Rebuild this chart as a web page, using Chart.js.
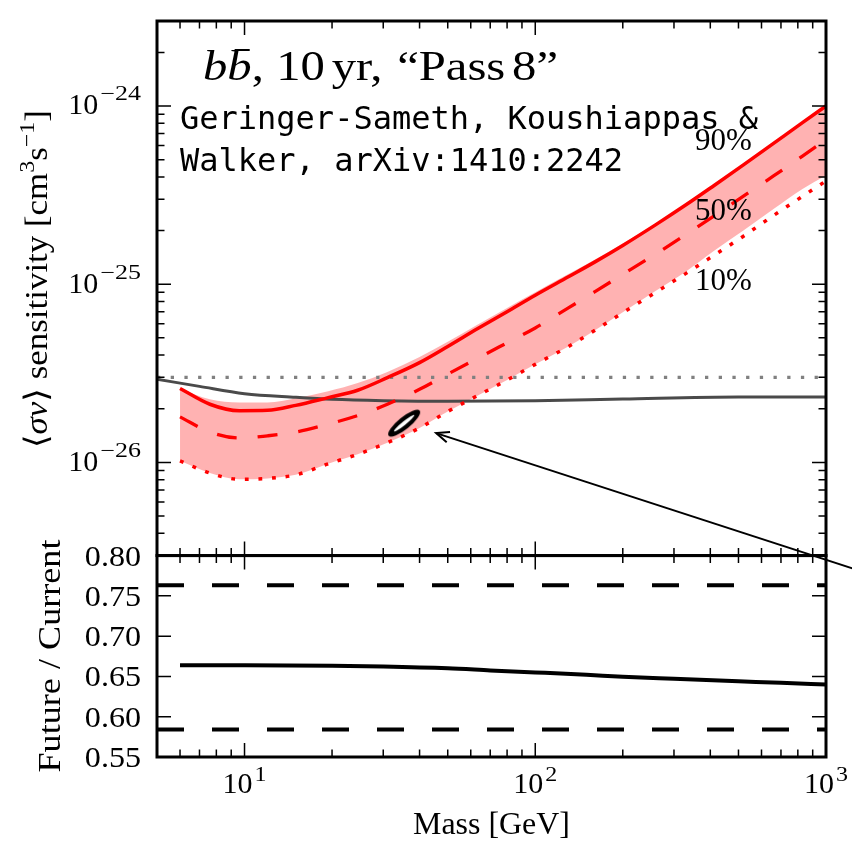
<!DOCTYPE html>
<html>
<head>
<meta charset="utf-8">
<script src="https://cdn.jsdelivr.net/npm/chart.js@4.4.1/dist/chart.umd.min.js"></script>
<style>
  html, body { margin:0; padding:0; background:#fff; }
  canvas { display:block; }
</style>
</head>
<body>
<canvas id="sens" width="852" height="846"></canvas>
<script>
'use strict';

// ---- data ----
const massGrid = [6, 7.6, 9.6, 12, 15, 19.4, 24.5, 31, 40, 50, 63, 80, 100, 130, 160, 200, 260, 330, 410, 520, 660, 830, 1000];
const sens90 = [2.6e-26, 2.12e-26, 1.95e-26, 1.96e-26, 2.09e-26, 2.31e-26, 2.54e-26, 2.99e-26, 3.63e-26, 4.47e-26, 5.6e-26, 7.01e-26, 8.67e-26, 1.10e-25, 1.33e-25, 1.65e-25, 2.16e-25, 2.79e-25, 3.56e-25, 4.67e-25, 6.17e-25, 8.07e-25, 1.0e-24];
const sens50 = [1.80e-26, 1.48e-26, 1.37e-26, 1.41e-26, 1.48e-26, 1.64e-26, 1.83e-26, 2.12e-26, 2.57e-26, 3.13e-26, 3.82e-26, 4.69e-26, 5.68e-26, 7.36e-26, 9.06e-26, 1.135e-25, 1.48e-25, 1.9e-25, 2.4e-25, 3.12e-25, 4.05e-25, 5.24e-25, 6.46e-25];
const sens10 = [1.02e-26, 8.71e-27, 8.04e-27, 8.13e-27, 8.51e-27, 9.82e-27, 1.11e-26, 1.29e-26, 1.56e-26, 1.93e-26, 2.36e-26, 2.9e-26, 3.55e-26, 4.47e-26, 5.5e-26, 6.92e-26, 9.02e-26, 1.15e-25, 1.445e-25, 1.86e-25, 2.43e-25, 3.11e-25, 3.80e-25];
const bandHi = [2.6e-26, 2.26e-26, 2.17e-26, 2.17e-26, 2.29e-26, 2.51e-26, 2.79e-26, 3.22e-26, 3.9e-26, 4.75e-26, 5.9e-26, 7.35e-26, 9.0e-26, 1.14e-25, 1.37e-25, 1.69e-25, 2.2e-25, 2.84e-25, 3.61e-25, 4.72e-25, 6.22e-25, 8.1e-25, 1.0e-24];
const bandLo = [1.02e-26, 8.71e-27, 8.04e-27, 8.13e-27, 8.51e-27, 9.82e-27, 1.11e-26, 1.29e-26, 1.56e-26, 1.93e-26, 2.36e-26, 2.9e-26, 3.55e-26, 4.47e-26, 5.5e-26, 6.95e-26, 9.2e-26, 1.18e-25, 1.53e-25, 2.0e-25, 2.64e-25, 3.42e-25, 4.07e-25];

const grayMass = [5, 7, 10, 15, 20, 30, 50, 100, 200, 500, 1000];
const graySens = [2.93e-26, 2.67e-26, 2.43e-26, 2.32e-26, 2.26e-26, 2.22e-26, 2.2e-26, 2.22e-26, 2.27e-26, 2.33e-26, 2.33e-26];
const thermalMass = [5, 1000];
const thermalSens = [3.0e-26, 3.0e-26];

const contourCenter = [35.4, 1.66e-26];
const arrowMass = [45.6, 1500];
const arrowSens = [1.46e-26, 2.29e-27];

const ratioMass = [6, 10, 20, 30, 50, 70, 100, 150, 200, 300, 500, 700, 1000];
const ratioVal = [0.664, 0.664, 0.6632, 0.6622, 0.660, 0.6575, 0.655, 0.652, 0.6495, 0.647, 0.644, 0.642, 0.640];
const ratioBandMass = [5, 1000];
const ratioUpper = [0.763, 0.763];
const ratioLower = [0.584, 0.584];

// ---- ticks ----
const xMajor = [10, 100, 1000];
const xMajorExp = ['1', '2', '3'];
const xMinor = [5, 6, 7, 8, 9, 20, 30, 40, 50, 60, 70, 80, 90, 200, 300, 400, 500, 600, 700, 800, 900];
const sensMajor = [1e-26, 1e-25, 1e-24];
const sensMajorExp = ['\u221226', '\u221225', '\u221224'];
const sensMinor = [3e-27, 4e-27, 5e-27, 6e-27, 7e-27, 8e-27, 9e-27, 2e-26, 3e-26, 4e-26, 5e-26, 6e-26, 7e-26, 8e-26, 9e-26,
                   2e-25, 3e-25, 4e-25, 5e-25, 6e-25, 7e-25, 8e-25, 9e-25, 2e-24, 3e-24];
const ratioTicks = [0.55, 0.60, 0.65, 0.70, 0.75, 0.80];
const ratioTickLabels = ['0.55', '0.60', '0.65', '0.70', '0.75', '0.80'];

const pts = (xs, ys) => xs.map((x, i) => ({ x, y: ys[i] }));

const SERIF = '"Liberation Serif", "DejaVu Serif", serif';
const MONO = '"DejaVu Sans Mono", monospace';
const f = (px, style = '') => `${style} ${px}px ${SERIF}`.trim();

function runW(ctx, r) { ctx.font = r.font; return ctx.measureText(r.t).width * (r.sx || 1); }
function runsWidth(ctx, runs) {
  return runs.reduce((w, r) => w + runW(ctx, r) + (r.gap || 0), 0);
}
// draw a row of text pieces (superscripts / italics); targetW stretches the row horizontally
function drawRuns(ctx, runs, x, y, align = 'left', targetW = 0) {
  ctx.save();
  ctx.translate(x, y);
  const w = runsWidth(ctx, runs);
  ctx.scale(targetW ? targetW / w : 1, 1);
  let cx = align === 'center' ? -w / 2 : align === 'right' ? -w : 0;
  ctx.textAlign = 'left';
  ctx.textBaseline = 'alphabetic';
  ctx.fillStyle = '#000';
  runs.forEach(r => {
    const rw = runW(ctx, r);
    ctx.save();
    ctx.translate(cx, r.dy || 0);
    ctx.scale(r.sx || 1, 1);
    ctx.font = r.font;
    ctx.fillText(r.t, 0, 0);
    ctx.restore();
    if (r.bar) ctx.fillRect(cx + rw * 0.3, -r.bar, rw * 0.62, 2);
    cx += rw + (r.gap || 0);
  });
  ctx.restore();
}

function contourGlyph() {
  const c = document.createElement('canvas');
  c.width = 52; c.height = 52;
  const g = c.getContext('2d');
  g.translate(26, 26);
  g.rotate(-0.68);
  g.beginPath(); g.ellipse(0, 0, 20, 6, 0, 0, Math.PI * 2); g.fillStyle = '#000'; g.fill();
  g.beginPath(); g.ellipse(0, 0, 13, 1.8, 0, 0, Math.PI * 2); g.fillStyle = '#fff'; g.fill();
  return c;
}

// split the plot area into the two panels (upper 544px, lower 205px)
const panels = {
  id: 'panels',
  afterLayout(chart) {
    const a = chart.chartArea;
    const { ys, yr } = chart.scales;
    const split = a.top + (a.bottom - a.top) * 544 / 749;
    Object.assign(ys, { top: a.top, bottom: split, height: split - a.top });
    Object.assign(yr, { top: split, bottom: a.bottom, height: a.bottom - split });
    ys.configure();
    yr.configure();
  }
};

const decor = {
  id: 'decor',
  afterDatasetsDraw(chart) {
    const { ctx } = chart;
    const x = chart.scales.x, ys = chart.scales.ys, yr = chart.scales.yr;
    const L = x.left, R = x.right;
    const T1 = ys.top, B1 = ys.bottom, T2 = yr.top, B2 = yr.bottom;
    const MAJ = 14, MIN = 7.5;

    ctx.save();
    // arrow head
    const hx = x.getPixelForValue(arrowMass[0]), hy = ys.getPixelForValue(arrowSens[0]);
    const tx = x.getPixelForValue(arrowMass[1]), ty = ys.getPixelForValue(arrowSens[1]);
    const ang = Math.atan2(hy - ty, hx - tx);
    ctx.strokeStyle = '#000'; ctx.lineWidth = 2;
    ctx.beginPath();
    ctx.moveTo(hx - 14 * Math.cos(ang - 0.4), hy - 14 * Math.sin(ang - 0.4));
    ctx.lineTo(hx, hy);
    ctx.lineTo(hx - 14 * Math.cos(ang + 0.4), hy - 14 * Math.sin(ang + 0.4));
    ctx.stroke();

    // ticks, pointing inwards on every side
    ctx.lineWidth = 1.5;
    ctx.beginPath();
    const xt = (v, len) => {
      const p = x.getPixelForValue(v);
      ctx.moveTo(p, T1); ctx.lineTo(p, T1 + len);
      ctx.moveTo(p, B1); ctx.lineTo(p, B1 - len);
      ctx.moveTo(p, T2); ctx.lineTo(p, T2 + len);
      ctx.moveTo(p, B2); ctx.lineTo(p, B2 - len);
    };
    xMajor.forEach(v => xt(v, MAJ));
    xMinor.forEach(v => xt(v, MIN));
    const yt = (scale, v, len) => {
      const p = scale.getPixelForValue(v);
      ctx.moveTo(L, p); ctx.lineTo(L + len, p);
      ctx.moveTo(R, p); ctx.lineTo(R - len, p);
    };
    sensMajor.forEach(v => yt(ys, v, MAJ));
    sensMinor.forEach(v => yt(ys, v, MIN));
    ratioTicks.forEach(v => yt(yr, v, MAJ));
    ctx.stroke();

    // frames
    ctx.lineWidth = 3;
    ctx.strokeRect(L, T1, R - L, B1 - T1);
    ctx.strokeRect(L, T2, R - L, B2 - T2);

    // tick labels
    sensMajor.forEach((v, i) => {
      const p = ys.getPixelForValue(v);
      drawRuns(ctx, [{ t: '10', font: f(30), gap: 2 },
                     { t: sensMajorExp[i], font: f(20), sx: 1.3, dy: -14 }], 141, p + 8.3, 'right');
    });
    ratioTicks.forEach((v, i) => {
      const p = yr.getPixelForValue(v);
      drawRuns(ctx, [{ t: ratioTickLabels[i], font: f(30), sx: 1.07 }], 141, p + 10, 'right');
    });
    xMajor.forEach((v, i) => {
      const p = x.getPixelForValue(v);
      drawRuns(ctx, [{ t: '10', font: f(30), gap: 2 },
                     { t: xMajorExp[i], font: f(20), sx: 1.2, dy: -12 }], p, 793, 'center');
    });

    // axis titles
    ctx.save();
    ctx.translate(47, 279);
    ctx.rotate(-Math.PI / 2);
    drawRuns(ctx, [
      { t: '\u27E8', font: f(32) },
      { t: '\u03C3v', font: f(32, 'italic') },
      { t: '\u27E9 sensitivity [cm', font: f(32) },
      { t: '3', font: f(22), dy: -13 },
      { t: 's', font: f(32) },
      { t: '\u22121', font: f(22), dy: -13 },
      { t: ']', font: f(32) },
    ], 0, 0, 'center', 338);
    ctx.restore();

    ctx.save();
    ctx.translate(60, 656);
    ctx.rotate(-Math.PI / 2);
    drawRuns(ctx, [{ t: 'Future / Current', font: f(32) }], 0, 0, 'center', 233);
    ctx.restore();

    drawRuns(ctx, [{ t: 'Mass [GeV]', font: f(32) }], (L + R) / 2, 834, 'center', 157);

    // annotations
    drawRuns(ctx, [
      { t: 'b', font: f(43, 'italic') },
      { t: 'b', font: f(43, 'italic'), bar: 31 },
      { t: ',', font: f(43), gap: 11 },
      { t: '10', font: f(43), gap: 6 },
      { t: 'yr,', font: f(43), gap: 13 },
      { t: '\u201CPass', font: f(43), gap: 6 },
      { t: '8\u201D', font: f(43) },
    ], 203, 80, 'left', 355);

    ctx.font = `32px ${MONO}`;
    ctx.fillStyle = '#000';
    ctx.textAlign = 'left';
    ctx.textBaseline = 'alphabetic';
    ctx.fillText('Geringer-Sameth, Koushiappas &', 180, 129);
    ctx.fillText('Walker, arXiv:1410:2242', 180, 171);

    ctx.font = f(31);
    ctx.fillText('90%', 695, 150);
    ctx.fillText('50%', 695, 220);
    ctx.fillText('10%', 695, 290);
    ctx.restore();
  }
};

const line = (o) => Object.assign({ pointRadius: 0, tension: 0, fill: false, yAxisID: 'ys' }, o);

new Chart(document.getElementById('sens'), {
  type: 'line',
  data: {
    datasets: [
      line({ data: pts(massGrid, bandLo), borderWidth: 0, cubicInterpolationMode: 'monotone', order: 20 }),
      line({ data: pts(massGrid, bandHi), borderWidth: 0, cubicInterpolationMode: 'monotone', fill: '-1', backgroundColor: 'rgba(255,0,0,0.3)', order: 20 }),
      line({ data: pts(thermalMass, thermalSens), borderColor: '#808080', borderWidth: 3.3, borderDash: [3.3, 10.4], order: 8 }),
      line({ data: pts(grayMass, graySens), borderColor: '#4a4a4a', borderWidth: 3, cubicInterpolationMode: 'monotone', order: 7 }),
      line({ data: pts(massGrid, sens10), borderColor: '#ff0000', borderWidth: 3.5, borderDash: [3.8, 9.8], cubicInterpolationMode: 'monotone', order: 5 }),
      line({ data: pts(massGrid, sens50), borderColor: '#ff0000', borderWidth: 3.3, borderDash: [20, 21], cubicInterpolationMode: 'monotone', order: 4 }),
      line({ data: pts(massGrid, sens90), borderColor: '#ff0000', borderWidth: 3.5, cubicInterpolationMode: 'monotone', order: 3 }),
      line({ data: [{ x: contourCenter[0], y: contourCenter[1] }], showLine: false, pointRadius: 20,
             pointStyle: contourGlyph(), order: 2 }),
      line({ data: pts(arrowMass, arrowSens), borderColor: '#000', borderWidth: 2, clip: false, order: 1 }),
      line({ data: pts(ratioBandMass, ratioUpper), yAxisID: 'yr', borderColor: '#000', borderWidth: 4, borderDash: [27, 28], order: 3 }),
      line({ data: pts(ratioBandMass, ratioLower), yAxisID: 'yr', borderColor: '#000', borderWidth: 4, borderDash: [27, 28], order: 3 }),
      line({ data: pts(ratioMass, ratioVal), yAxisID: 'yr', borderColor: '#000', borderWidth: 4, cubicInterpolationMode: 'monotone', order: 3 }),
    ]
  },
  options: {
    responsive: false,
    animation: false,
    events: [],
    layout: { padding: { top: 8, right: 26, left: 0, bottom: 0 } },
    plugins: { legend: { display: false }, tooltip: { enabled: false }, filler: { drawTime: 'beforeDatasetsDraw' } },
    scales: {
      x: {
        type: 'logarithmic', min: 5, max: 1000, position: 'bottom',
        grid: { display: false }, border: { display: false }, ticks: { display: false },
        afterFit: s => { s.height = 89; }
      },
      yr: {
        type: 'linear', min: 0.55, max: 0.80, position: 'left', stack: 'panels', stackWeight: 205,
        grid: { display: false }, border: { display: false }, ticks: { display: false },
        afterFit: s => { s.width = 157; }
      },
      ys: {
        type: 'logarithmic', min: 3e-27, max: 3e-24, position: 'left', stack: 'panels', stackWeight: 544,
        grid: { display: false }, border: { display: false }, ticks: { display: false },
        afterFit: s => { s.width = 157; }
      }
    }
  },
  plugins: [panels, decor]
});
</script>
</body>
</html>
